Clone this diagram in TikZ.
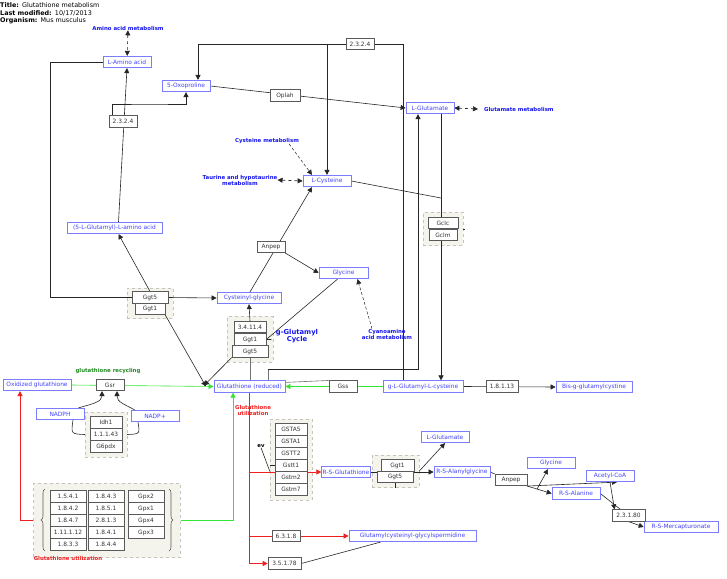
\documentclass[tikz,border=0pt]{standalone}
\usepackage{fontspec}
\setmainfont{DejaVu Sans}
\usetikzlibrary{arrows.meta,fit,decorations.pathreplacing}
\definecolor{metab}{HTML}{4444FF}
\definecolor{metabline}{HTML}{7C7CFF}
\definecolor{pwblue}{HTML}{1414EE}
\definecolor{genegray}{HTML}{5A5A5A}
\definecolor{genetext}{HTML}{333333}
\definecolor{grpfill}{HTML}{F4F3EC}
\definecolor{grpline}{HTML}{C4C4BC}
\definecolor{gsgreen}{HTML}{33E633}
\definecolor{recgreen}{HTML}{1F8A1F}
\definecolor{utred}{HTML}{F01E1E}

\pgfdeclarelayer{bg}
\pgfdeclarelayer{edges}
\pgfsetlayers{bg,edges,main}

\tikzset{
  base/.style={font=\fontsize{5.9}{6.5}\selectfont, inner sep=1pt, minimum height=11.5pt},
  met/.style={base, draw=metabline, text=metab, fill=white, line width=0.7pt},
  gene/.style={base, draw=genegray, text=genetext, fill=white, line width=0.6pt},
  grp/.style={draw=grpline, dashed, fill=grpfill, line width=0.6pt, inner sep=4.5pt},
  pw/.style={text=pwblue, font=\bfseries\fontsize{5.4}{6}\selectfont, align=center, inner sep=0pt},
  plain/.style={draw=black!85, line width=0.6pt},
  conv/.style={plain, -{Triangle[length=5pt,width=5pt]}},
  mim/.style={plain, dashed, {Triangle[length=5pt,width=5pt]}-{Triangle[length=5pt,width=5pt]}},
  mimone/.style={draw=black!85, line width=0.5pt, densely dashed, -{Triangle[length=5pt,width=5pt]}},
  gconv/.style={draw=gsgreen, line width=0.6pt, -{Triangle[length=5pt,width=5pt]}},
  rconv/.style={draw=utred, line width=0.6pt, -{Triangle[length=5pt,width=5pt]}},
  info/.style={anchor=west, inner sep=0pt, font=\fontsize{6.4}{7}\selectfont},
}

\begin{document}
\begin{tikzpicture}[x=1pt,y=-1pt]
  \useasboundingbox (0,0) rectangle (727,578);

  % header
  \node[info] (title) at (0,5) {\textbf{Title:}\enspace Glutathione metabolism};
  \node[info] (modified) at (0,13) {\textbf{Last modified:}\enspace 10/17/2013};
  \node[info] (organism) at (0,21) {\textbf{Organism:}\enspace Mus musculus};

  % metabolites
  \node[met, minimum width=48pt] (laa) at (127,62) {L-Amino acid};
  \node[met, minimum width=48pt] (oxo) at (186,86) {5-Oxoproline};
  \node[met, minimum width=48pt] (glu) at (430,108) {L-Glutamate};
  \node[met, minimum width=48pt] (cys) at (327,181) {L-Cysteine};
  \node[met, minimum width=95pt] (glaa) at (114.5,228) {(5-L-Glutamyl)-L-amino acid};
  \node[met, minimum width=49pt] (gly) at (343.5,273) {Glycine};
  \node[met, minimum width=64pt] (cysgly) at (249,298) {Cysteinyl-glycine};
  \node[met, minimum width=71pt] (gsh) at (249.5,386.5) {Glutathione (reduced)};
  \node[met, minimum width=80pt] (glucys) at (423,386.5) {g-L-Glutamyl-L-cysteine};
  \node[met, minimum width=76pt] (bisg) at (594,387) {Bis-g-glutamylcystine};
  \node[met, minimum width=68pt] (gssg) at (37,385) {Oxidized glutathione};
  \node[met, minimum width=48pt] (nadph) at (60,414) {NADPH};
  \node[met, minimum width=48pt] (nadp) at (155,416) {NADP+};
  \node[met, minimum width=48pt] (rsg) at (346,472) {R-S-Glutathione};
  \node[met, minimum width=48pt] (glub) at (445,437) {L-Glutamate};
  \node[met, minimum width=56pt] (rsag) at (462,472) {R-S-Alanylglycine};
  \node[met, minimum width=48pt] (glyb) at (551,463) {Glycine};
  \node[met, minimum width=48pt] (acoa) at (610,476) {Acetyl-CoA};
  \node[met, minimum width=48pt] (rsala) at (576,493.5) {R-S-Alanine};
  \node[met, minimum width=74pt] (rsm) at (681,527) {R-S-Mercapturonate};
  \node[met, minimum width=127pt] (spd) at (412.5,536) {Glutamylcysteinyl-glycylspermidine};

  % gene products
  \node[gene, minimum width=28pt] (ecta) at (360,44) {2.3.2.4};
  \node[gene, minimum width=28pt] (ectb) at (123,121.5) {2.3.2.4};
  \node[gene, minimum width=30pt] (oplah) at (285,95.5) {Oplah};
  \node[gene, minimum width=30pt] (gclc) at (443,223) {Gclc};
  \node[gene, minimum width=28pt] (gclm) at (443,235) {Gclm};
  \node[gene, minimum width=28pt] (anpep) at (271,247) {Anpep};
  \node[gene, minimum width=36pt] (ggtfa) at (150,297.5) {Ggt5};
  \node[gene, minimum width=30pt] (ggtoa) at (150,309) {Ggt1};
  \node[gene, minimum width=32pt] (ecdp) at (250,327) {3.4.11.4};
  \node[gene, minimum width=32pt] (ggtob) at (250,339.5) {Ggt1};
  \node[gene, minimum width=36pt] (ggtfb) at (250,351.5) {Ggt5};
  \node[gene, minimum width=28pt] (gss) at (343,386.5) {Gss};
  \node[gene, minimum width=32pt] (ecox) at (502,386.5) {1.8.1.13};
  \node[gene, minimum width=28pt] (gsr) at (110,385) {Gsr};
  \node[gene, minimum width=32pt] (idh) at (106,422.5) {Idh1};
  \node[gene, minimum width=32pt] (ecdh) at (106,434.5) {1.1.1.43};
  \node[gene, minimum width=32pt] (gpdx) at (106,446.5) {G6pdx};
  \node[gene, minimum width=32pt] (gsta5) at (291,429.5) {GSTA5};
  \node[gene, minimum width=32pt] (gsta1) at (291,441.5) {GSTA1};
  \node[gene, minimum width=32pt] (gstt2) at (291,453.5) {GSTT2};
  \node[gene, minimum width=32pt] (gstt1) at (291,465.5) {Gstt1};
  \node[gene, minimum width=32pt] (gstm2) at (291,477.5) {Gstm2};
  \node[gene, minimum width=32pt] (gstm7) at (291,489.5) {Gstm7};
  \node[gene, minimum width=33pt] (ggtoc) at (397.5,465.5) {Ggt1};
  \node[gene, minimum width=36pt] (ggtfc) at (395,477) {Ggt5};
  \node[gene, minimum width=32pt] (anpepb) at (511,480) {Anpep};
  \node[gene, minimum width=33pt] (ecat) at (628.5,515.5) {2.3.1.80};
  \node[gene, minimum width=28pt] (ecsyn) at (286,536) {6.3.1.8};
  \node[gene, minimum width=33pt] (ecam) at (284.5,563.5) {3.5.1.78};

  % glutathione utilization table
  \node[gene, minimum width=36pt] (ta) at (68,496.5) {1.5.4.1};
  \node[gene, minimum width=36pt] (tb) at (68,508.5) {1.8.4.2};
  \node[gene, minimum width=36pt] (tc) at (68,520.5) {1.8.4.7};
  \node[gene, minimum width=36pt] (td) at (68,532.5) {1.11.1.12};
  \node[gene, minimum width=36pt] (te) at (68,544.5) {1.8.3.3};
  \node[gene, minimum width=36pt] (tf) at (106,496.5) {1.8.4.3};
  \node[gene, minimum width=36pt] (tg) at (106,508.5) {1.8.5.1};
  \node[gene, minimum width=36pt] (th) at (106,520.5) {2.8.1.3};
  \node[gene, minimum width=36pt] (ti) at (106,532.5) {1.8.4.1};
  \node[gene, minimum width=36pt] (tj) at (106,544.5) {1.8.4.4};
  \node[gene, minimum width=36pt] (tk) at (146,496.5) {Gpx2};
  \node[gene, minimum width=36pt] (tl) at (146,508.5) {Gpx1};
  \node[gene, minimum width=36pt] (tm) at (146,520.5) {Gpx4};
  \node[gene, minimum width=36pt] (tn) at (146,532.5) {Gpx3};

  % labels
  \node[pw] (aamet) at (128,28) {Amino acid metabolism};
  \node[pw] (cysmet) at (267,141) {Cysteine metabolism};
  \node[pw] (taur) at (240,180) {Taurine and hypotaurine\\metabolism};
  \node[pw, anchor=west] (glumet) at (484,109) {Glutamate metabolism};
  \node[pw] (cyano) at (387,334) {Cyanoamino\\acid metabolism};
  \node[pw, font=\bfseries\fontsize{6.8}{7.4}\selectfont] (cyclab) at (297,336) {g-Glutamyl\\Cycle};
  \node[pw, text=recgreen] (recyc) at (108,371) {glutathione recycling};
  \node[pw, text=utred] (util) at (253,410) {Glutathione\\utilization};
  \node[pw, text=utred] (utilb) at (68,558) {Glutathione utilization};
  \node[pw, text=black] (ev) at (261,446) {ev};

  \begin{pgfonlayer}{bg}
    \node[grp, fit=(gclc)(gclm)] (gclgrp) {};
    \node[grp, fit=(ggtfa)(ggtoa), inner ysep=3.5pt] (ggtagrp) {};
    \node[grp, fit=(ecdp)(ggtob)(ggtfb)] (cycgrp) {};
    \node[grp, fit=(idh)(ecdh)(gpdx)] (idgrp) {};
    \node[grp, fit=(gsta5)(gstm7)] (gstgrp) {};
    \node[grp, fit=(ggtoc)(ggtfc)] (ggtcgrp) {};
    \node[grp, fit=(ta)(te)(tk), inner xsep=16pt, inner ysep=7pt] (tblgrp) {};
  \end{pgfonlayer}
  \draw[genegray, line width=0.6pt, decorate, decoration={brace, amplitude=4pt}] (45,551) -- (45,489);
  \draw[genegray, line width=0.6pt, decorate, decoration={brace, amplitude=4pt}] (169,489) -- (169,551);

  \begin{pgfonlayer}{edges}
    % upper part
    \draw[mim] (aamet) -- (laa);
    \draw[plain] (laa.west) -| (50,297.5) -- (ggtfa.west);
    \draw[conv] (ggtfa.east) -- (cysgly.west);
    \draw[conv] ([xshift=4pt]glaa.north) -- (laa.south);
    \draw[conv] ([xshift=-11pt]ectb.north) |- (150,104) -| (oxo.south);
    \draw[conv] (ggtfa.north) -- ([xshift=4pt]glaa.south);
    \draw[conv] (ggtoa.south east) -- (206,386.5);
    \draw[conv] (ggtfb.south west) -- (204,385.5);
    \draw[conv] (ecdp.north) -- (cysgly.north |- cysgly.south);
    \draw[plain, black!55] (gsh.north -| ggtfb.south) -- (ggtfb.south);
    \draw[conv] ([xshift=1pt]cysgly.north) -- ([xshift=-15pt]cys.south);
    \draw[conv] (anpep.south east) -- (gly.west);
    \draw[plain] ([xshift=-6pt]gly.south) -- (ggtob.east) -- ++(5,0);
    \draw[mimone] ([xshift=-15pt]cyano.north) -- ([xshift=14pt]gly.south);
    \draw[mimone] ([xshift=22pt]cysmet.south) -- ([xshift=-15pt]cys.north);
    \draw[mim] (taur.east) -- (cys.west);
    \draw[conv] (ecta.west) -| ([xshift=12pt]oxo.north);
    \draw[conv] (ecta.west -| cys.north) -- (cys.north);
    \draw[plain] (ecta.east) -| ([xshift=-20pt]glucys.north);
    \draw[plain, black!55] ([xshift=18.5pt]gsh.north) -- (268,369);
    \draw[conv] (268,369) -| ([xshift=-12pt]glu.south);
    \draw[conv] ([xshift=11pt]glu.south) -- ([xshift=18pt]glucys.north);
    \draw[plain] (cys.east) -- (441,198);
    \draw[conv] (oxo.east) -- (glu.west);
    \draw[mim] (glu.east) -- ([xshift=-6pt]glumet.west);
    \draw[plain] (gclgrp.east) -- ++(2,0);
    % glutathione synthesis and recycling
    \draw[gconv] (glucys.west) -- (gsh.east);
    \draw[plain, black!55] (gss.north west) -- ([yshift=-2pt]gsh.north east);
    \draw[conv] (glucys.east) -- (bisg.west);
    \draw[gconv] (gssg.east) -- (gsh.west);
    \draw[conv] ([xshift=-6pt]nadph.north east) .. controls (92,404) and (102,402) .. ([xshift=-8pt]gsr.south);
    \draw[conv] ([xshift=4pt]nadp.north west) .. controls (124,404) and (117,402) .. ([xshift=7pt]gsr.south);
    \draw[plain] ([xshift=13pt]nadph.south) .. controls (71,434) .. (idgrp.west);
    \draw[plain] ([xshift=-17pt]nadp.south) .. controls (140,434) .. (idgrp.east);
    % glutathione utilization
    \draw[rconv] (gsh.south) |- (rsg.west);
    \draw[rconv] (gsh.south) |- (spd.west);
    \draw[rconv] (gsh.south) |- (ecam.west);
    \draw[rconv] (tblgrp.west) -| ([xshift=-17pt]gssg.south);
    \draw[gconv] (tblgrp.east) -| ([xshift=-16.5pt]gsh.south);
    \draw[plain] (ev.south) -- (gstgrp.west |- gstt1.south);
    \draw[plain] ([xshift=-5pt]gstt1.west) -- (gstt1.west);
    \draw[conv] (rsg.east) -- (rsag.west);
    \draw[conv] (ggtcgrp.east) -- (glub.south);
    \draw[plain] (ggtfc.south) -- (ggtcgrp.south -| ggtfc.south);
    \draw[plain] (rsag.east) -- (anpepb.north west);
    \draw[conv] (anpepb.south east) -- coordinate[pos=0.4] (abr) (rsala.west);
    \draw[conv] (abr) -- ([xshift=-3pt]glyb.south);
    \draw[conv] (anpepb.south east) -- ([xshift=7pt]acoa.south);
    \draw[plain] (rsala.east) -- ([xshift=-8pt]ecat.north);
    \draw[conv] (acoa.south) -- ([xshift=-14pt]ecat.north);
    \draw[conv] (ecat.south) -- (rsm.west);
    \draw[plain] (ecam.east) -- ([xshift=-32pt]spd.south);
  \end{pgfonlayer}
\end{tikzpicture}
\end{document}
